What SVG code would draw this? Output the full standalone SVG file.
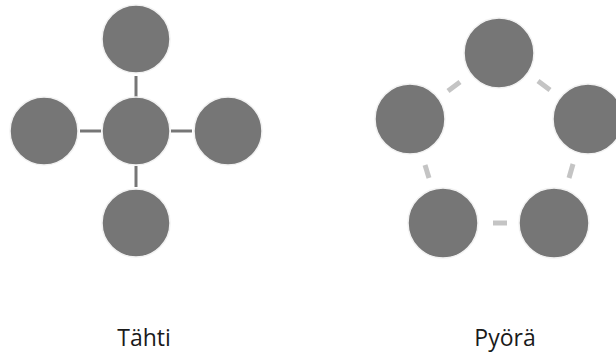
<svg xmlns="http://www.w3.org/2000/svg" width="616" height="355" viewBox="0 0 616 355">
<style>
.n{fill:#767676;stroke:#f2f2f2;stroke-width:1.5}
.s{stroke:#767676;stroke-width:3;fill:none}
.w{stroke:#c4c4c4;stroke-width:5;fill:none}
.t{font-family:"Open Sans","Liberation Sans",sans-serif;font-size:23px;fill:#1a1a1a;text-anchor:middle}
</style>
<rect width="616" height="355" fill="#fff"/>
<g id="connectors">
<line class="s" x1="136" y1="76" x2="136" y2="97"/>
<line class="s" x1="80" y1="131" x2="101" y2="131"/>
<line class="s" x1="171" y1="131" x2="192" y2="131"/>
<line class="s" x1="136" y1="166" x2="136" y2="187"/>
<line class="w" x1="448" y1="91" x2="460" y2="82"/>
<line class="w" x1="538" y1="81" x2="550" y2="90"/>
<line class="w" x1="425" y1="165" x2="429" y2="178"/>
<line class="w" x1="573" y1="164" x2="569" y2="178"/>
<line class="w" x1="493" y1="223" x2="507" y2="223"/>
</g>
<g id="star-top"><circle class="n" cx="136" cy="39" r="34"/></g>
<g id="star-center"><circle class="n" cx="136" cy="131" r="34"/></g>
<g id="star-left"><circle class="n" cx="44" cy="131" r="34"/></g>
<g id="star-right"><circle class="n" cx="228" cy="131" r="34"/></g>
<g id="star-bottom"><circle class="n" cx="136" cy="223" r="34"/></g>
<g id="wheel-top"><circle class="n" cx="499" cy="53" r="35"/></g>
<g id="wheel-left"><circle class="n" cx="410" cy="119" r="35"/></g>
<g id="wheel-right"><circle class="n" cx="588" cy="119" r="35"/></g>
<g id="wheel-bl"><circle class="n" cx="443" cy="223" r="35"/></g>
<g id="wheel-br"><circle class="n" cx="554" cy="223" r="35"/></g>
<g id="label-star"><text class="t" x="144" y="346">Tähti</text></g>
<g id="label-wheel"><text class="t" x="505" y="346">Pyörä</text></g>
</svg>
